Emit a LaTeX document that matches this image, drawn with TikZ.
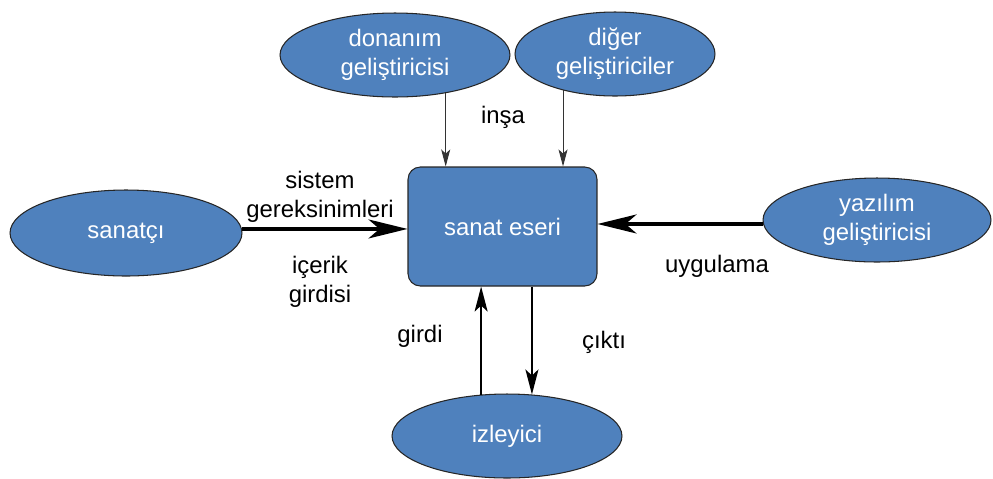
\documentclass[tikz,border=0pt]{standalone}
\usepackage{fontspec}
\setmainfont{Liberation Sans}
\usepackage{tikz}
\usetikzlibrary{shapes.geometric, arrows.meta, positioning}
\definecolor{actorblue}{RGB}{79, 129, 189}
\newcommand{\diagfont}{\fontsize{13.6}{16.5}\selectfont}

\begin{document}
\begin{tikzpicture}[
          x=0.02cm, y=-0.02cm,
          actor/.style={ellipse, draw=black!85, fill=actorblue, line width=0.6pt, text=white, minimum width=4.6cm, minimum height=1.68cm, inner sep=0pt, align=center, font=\diagfont},
          work/.style={rectangle, rounded corners=7pt, draw=black!85, fill=actorblue, line width=0.6pt, text=white, minimum width=3.78cm, minimum height=2.38cm, font=\diagfont},
          flowlabel/.style={align=center, font=\diagfont, inner sep=0pt},
          thinflow/.style={-{Stealth[length=0.34cm, width=0.18cm, inset=0.08cm]}, line width=0.6pt, black!80},
          midflow/.style={-{Stealth[length=0.5cm, width=0.26cm, inset=0.12cm]}, line width=1.2pt},
          bigflow/.style={-{Stealth[length=0.78cm, width=0.38cm, inset=0.22cm]}, line width=1.8pt}
        ]
          \useasboundingbox (0,0) rectangle (993,478);

          % Central artwork box
          \node[work] (eser) at (502.5, 226.5) {sanat eseri};

          % Actors around it
          \node[actor] (donanim) at (395, 55) {donanım\\geliştiricisi};
          \node[actor, minimum width=4cm] (diger) at (615, 54) {diğer\\geliştiriciler};
          \node[actor, minimum width=4.64cm, minimum height=1.72cm] (sanatci) at (126, 233) {sanatçı};
          \node[actor, minimum width=4.56cm] (yazilim) at (877, 220) {yazılım\\geliştiricisi};
          \node[actor] (izleyici) at (507, 436) {izleyici};

          % Flows into and out of the artwork
          \draw[thinflow] (donanim.-37) -- (donanim.-37 |- eser.north);
          \draw[thinflow] (diger.-145) -- (diger.-145 |- eser.north);
          \draw[bigflow] (sanatci.2) -- (sanatci.2 -| eser.west);
          \draw[bigflow] (yazilim.182) -- (yazilim.182 -| eser.east);
          \draw[midflow] (izleyici.122) -- (izleyici.122 |- eser.south);
          \draw[midflow] (eser.south -| izleyici.59) -- (izleyici.59);

          % Flow labels
          \node[flowlabel] (insa) at (503, 117) {inşa};
          \node[flowlabel] (gereksinim) at (320, 197) {sistem\\gereksinimleri};
          \node[flowlabel] (icerik) at (320, 282) {içerik\\girdisi};
          \node[flowlabel] (uygulama) at (717, 266) {uygulama};
          \node[flowlabel] (girdi) at (420, 336) {girdi};
          \node[flowlabel] (cikti) at (604, 342) {çıktı};
        \end{tikzpicture}
\end{document}
